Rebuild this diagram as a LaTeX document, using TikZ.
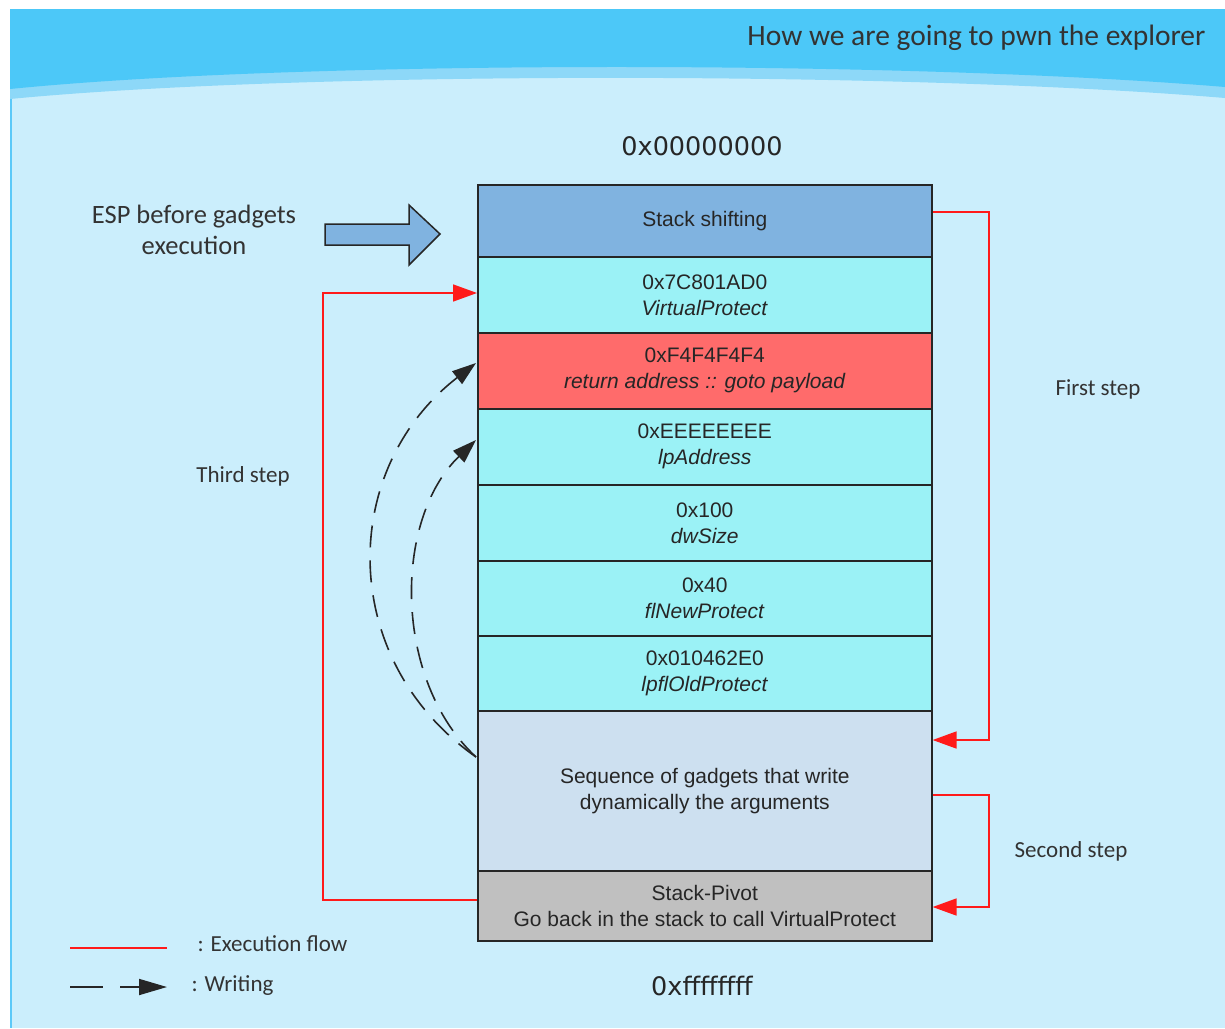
\documentclass[tikz,border=0pt]{standalone}
\usepackage{fontspec}
\setmainfont{Liberation Sans}
\newfontfamily\calfont{Carlito}
\newfontfamily\djfont{DejaVu Sans}
\usetikzlibrary{arrows.meta,calc}
\definecolor{hdr}{HTML}{4CC8F8}
\definecolor{band}{HTML}{8DD8F8}
\definecolor{bodybg}{HTML}{CBEEFC}
\definecolor{edgeblue}{HTML}{5CC9F8}
\definecolor{shiftc}{HTML}{80B3E0}
\definecolor{cyanbox}{HTML}{9BF2F6}
\definecolor{redbox}{HTML}{FF6B6B}
\definecolor{gadgetc}{HTML}{CDE0F0}
\definecolor{pivotc}{HTML}{C0C0C0}
\definecolor{flow}{HTML}{FF1A1A}
\definecolor{labeltext}{HTML}{333333}
\begin{document}
\begin{tikzpicture}[x=1pt,y=-1pt,
  stackbox/.style={draw=black!85, line width=1.6pt, minimum width=454pt, anchor=north west,
    inner sep=0pt, align=center, font=\fontsize{21}{26}\selectfont, text=black!85},
  sidelabel/.style={font=\calfont\fontsize{23}{31}\selectfont, text=labeltext, align=center},
  addrlabel/.style={font=\djfont\fontsize{25.5}{30}\selectfont, text=black!85},
  flowline/.style={draw=flow, line width=1.6pt},
  flowarrow/.style={flowline, -{Triangle[length=24pt,width=17pt]}},
  writearrow/.style={draw=black!85, line width=1.6pt, dash pattern=on 22pt off 13pt,
    -{Triangle[length=24pt,width=16pt]}},
  legendwrite/.style={draw=black!85, line width=1.8pt, dash pattern=on 33pt off 17pt,
    -{Triangle[length=28pt,width=16pt]}}
]
\useasboundingbox (0,0) rectangle (1225,1028);
% background
\fill[bodybg] (10,9) rectangle (1225,1028);
\fill[band] (10,9) -- (1225,9) -- (1225,98) .. controls (900,71) and (300,71) .. (10,99) -- cycle;
\fill[hdr] (10,9) -- (1225,9) -- (1225,87) .. controls (900,60) and (300,60) .. (10,89) -- cycle;
\draw[edgeblue, line width=2pt] (11,99) -- (11,1028);
\node[anchor=east, font=\calfont\fontsize{29.5}{34}\selectfont, text=black!80] (title) at (1209,38) {How we are going to pwn the explorer};

% stack
\node[stackbox, fill=shiftc, minimum height=72pt] (shift) at (477,184) {Stack shifting};
\node[stackbox, fill=cyanbox, minimum height=76pt] (vp) at (477,256) {0x7C801AD0\\\textit{VirtualProtect}};
\node[stackbox, fill=redbox, minimum height=76pt] (ret) at (477,332) {0xF4F4F4F4\\\textit{return address :: goto payload}};
\node[stackbox, fill=cyanbox, minimum height=76pt] (lp) at (477,408) {0xEEEEEEEE\\\textit{lpAddress}};
\node[stackbox, fill=cyanbox, minimum height=76pt] (dw) at (477,484) {0x100\\\textit{dwSize}};
\node[stackbox, fill=cyanbox, minimum height=75pt] (fl) at (477,560) {0x40\\\textit{flNewProtect}};
\node[stackbox, fill=cyanbox, minimum height=75pt] (old) at (477,635) {0x010462E0\\\textit{lpflOldProtect}};
\node[stackbox, fill=gadgetc, minimum height=160pt] (gad) at (477,710) {Sequence of gadgets that write\\dynamically the arguments};
\node[stackbox, fill=pivotc, minimum height=70pt] (piv) at (477,870) {Stack-Pivot\\Go back in the stack to call VirtualProtect};

\node[addrlabel] (top) at (702,146) {0x00000000};
\node[addrlabel] (bot) at (702,986) {0xffffffff};

% ESP arrow
\node[sidelabel, font=\calfont\fontsize{26.5}{31}\selectfont] (esp) at (194,230) {ESP before gadgets\\execution};
\draw[fill=shiftc, draw=black!85, line width=1.5pt, line join=miter]
  (325,224) -- (409,224) -- (409,205) -- (440,234) -- (409,265) -- (409,245) -- (325,245) -- cycle;

% side labels
\node[sidelabel] (first) at (1098,389) {First step};
\node[sidelabel] (second) at (1071,851) {Second step};
\node[sidelabel] (third) at (243,476) {Third step};

% execution flow connectors
\coordinate (s1) at ($(shift.north east)+(0,28)$);
\coordinate (e1) at ($(gad.north east)+(0,30)$);
\coordinate (s2) at ($(gad.north east)+(0,85)$);
\coordinate (e2) at ($(piv.north east)+(0,37)$);
\coordinate (s3) at ($(piv.north west)+(0,30)$);
\coordinate (e3) at ($(vp.north west)+(0,37)$);
\draw[flowarrow] (s1) -- (989,212) |- (e1);
\draw[flowarrow] (s2) -- (989,795) |- (e2);
\draw[flowarrow] (s3) -- (323,900) |- (e3);

% writing connectors
\coordinate (ws) at ($(gad.north west)+(-1,47)$);
\coordinate (we1) at ($(ret.north west)+(-1,31)$);
\coordinate (we2) at ($(lp.north west)+(-1,32)$);
\draw[writearrow] (ws) .. controls (338,660) and (338,470) .. (we1);
\draw[writearrow] (ws) .. controls (393,680) and (393,520) .. (we2);

% legend
\coordinate (la) at (70,948);
\coordinate (lb) at (167,948);
\coordinate (lc) at (70,987);
\coordinate (ld) at (167,987);
\draw[flowline] (la) -- (lb);
\draw[legendwrite] (lc) -- (ld);
\node[sidelabel, anchor=west] (lflow) at (194,944) {: Execution flow};
\node[sidelabel, anchor=west] (lwrite) at (188,986) {: Writing};
\end{tikzpicture}
\end{document}
